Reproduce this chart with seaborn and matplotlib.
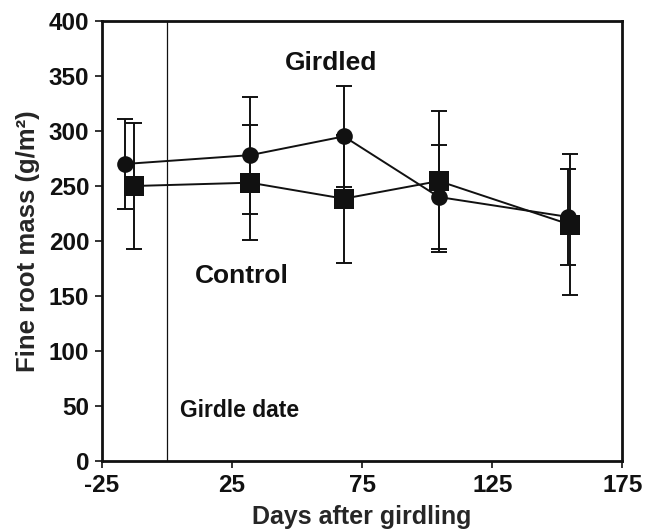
import matplotlib
matplotlib.use("Agg")
import matplotlib.pyplot as plt
import seaborn as sns
import pandas as pd

# values
girdled_days = [-16, 32, 68, 104.5, 154]
girdled_mass = [270, 278, 295, 240, 222]
girdled_err = [40.5, 53, 46, 47, 43.5]

control_days = [-12.6, 32, 68, 104.5, 154.8]
control_mass = [250, 253, 238.5, 254.5, 215]
control_err = [57, 52, 58, 64, 64]

x_ticks = [-25, 25, 75, 125, 175]
y_ticks = [0, 50, 100, 150, 200, 250, 300, 350, 400]
girdle_day = 0

sns.set_style("white")
plt.rcParams['font.family'] = ['Liberation Sans', 'DejaVu Sans']
plt.rcParams['font.weight'] = 'bold'
plt.rcParams['axes.unicode_minus'] = False

girdled = pd.DataFrame({'day': girdled_days, 'mass': girdled_mass, 'err': girdled_err})
control = pd.DataFrame({'day': control_days, 'mass': control_mass, 'err': control_err})

fig = plt.figure(figsize=(6.46, 5.31), dpi=100)
ax = fig.add_axes([0.1574, 0.1309, 0.9636 - 0.1574, 0.961 - 0.1309])

ink = '#111111'

# girdle date marker line
ax.axvline(girdle_day, color=ink, lw=0.9, zorder=1)

for df, mk, ms in [(girdled, 'o', 12), (control, 's', 14)]:
    ax.errorbar(df['day'], df['mass'], yerr=df['err'], fmt='none', ecolor=ink,
                elinewidth=1.4, capsize=5.5, capthick=1.4, zorder=2)
    sns.lineplot(data=df, x='day', y='mass', ax=ax, color=ink, lw=1.4,
                 marker=mk, markersize=ms, markeredgewidth=0, sort=False, zorder=3)

ax.set_xlim(-25, 175)
ax.set_ylim(0, 400)
ax.set_xticks(x_ticks)
ax.set_yticks(y_ticks)
ax.tick_params(axis='both', direction='out', length=5, width=1.2, colors=ink,
               labelsize=17.5, bottom=True, left=True, pad=4)
for lab in ax.get_xticklabels() + ax.get_yticklabels():
    lab.set_fontweight('bold')
for sp in ax.spines.values():
    sp.set_color(ink)
    sp.set_linewidth(2)

ax.set_xlabel('Days after girdling', fontsize=18, fontweight='bold', labelpad=6)
ax.set_ylabel('Fine root mass (g/m²)', fontsize=18.5, fontweight='bold', labelpad=6)

ax.text(63, 362, 'Girdled', fontsize=19, fontweight='bold', ha='center', va='center', color=ink)
ax.text(29, 168, 'Control', fontsize=19, fontweight='bold', ha='center', va='center', color=ink)
ax.text(5, 46, 'Girdle date', fontsize=16.5, fontweight='bold', ha='left', va='center', color=ink)

fig.savefig('out.png', dpi=100)
